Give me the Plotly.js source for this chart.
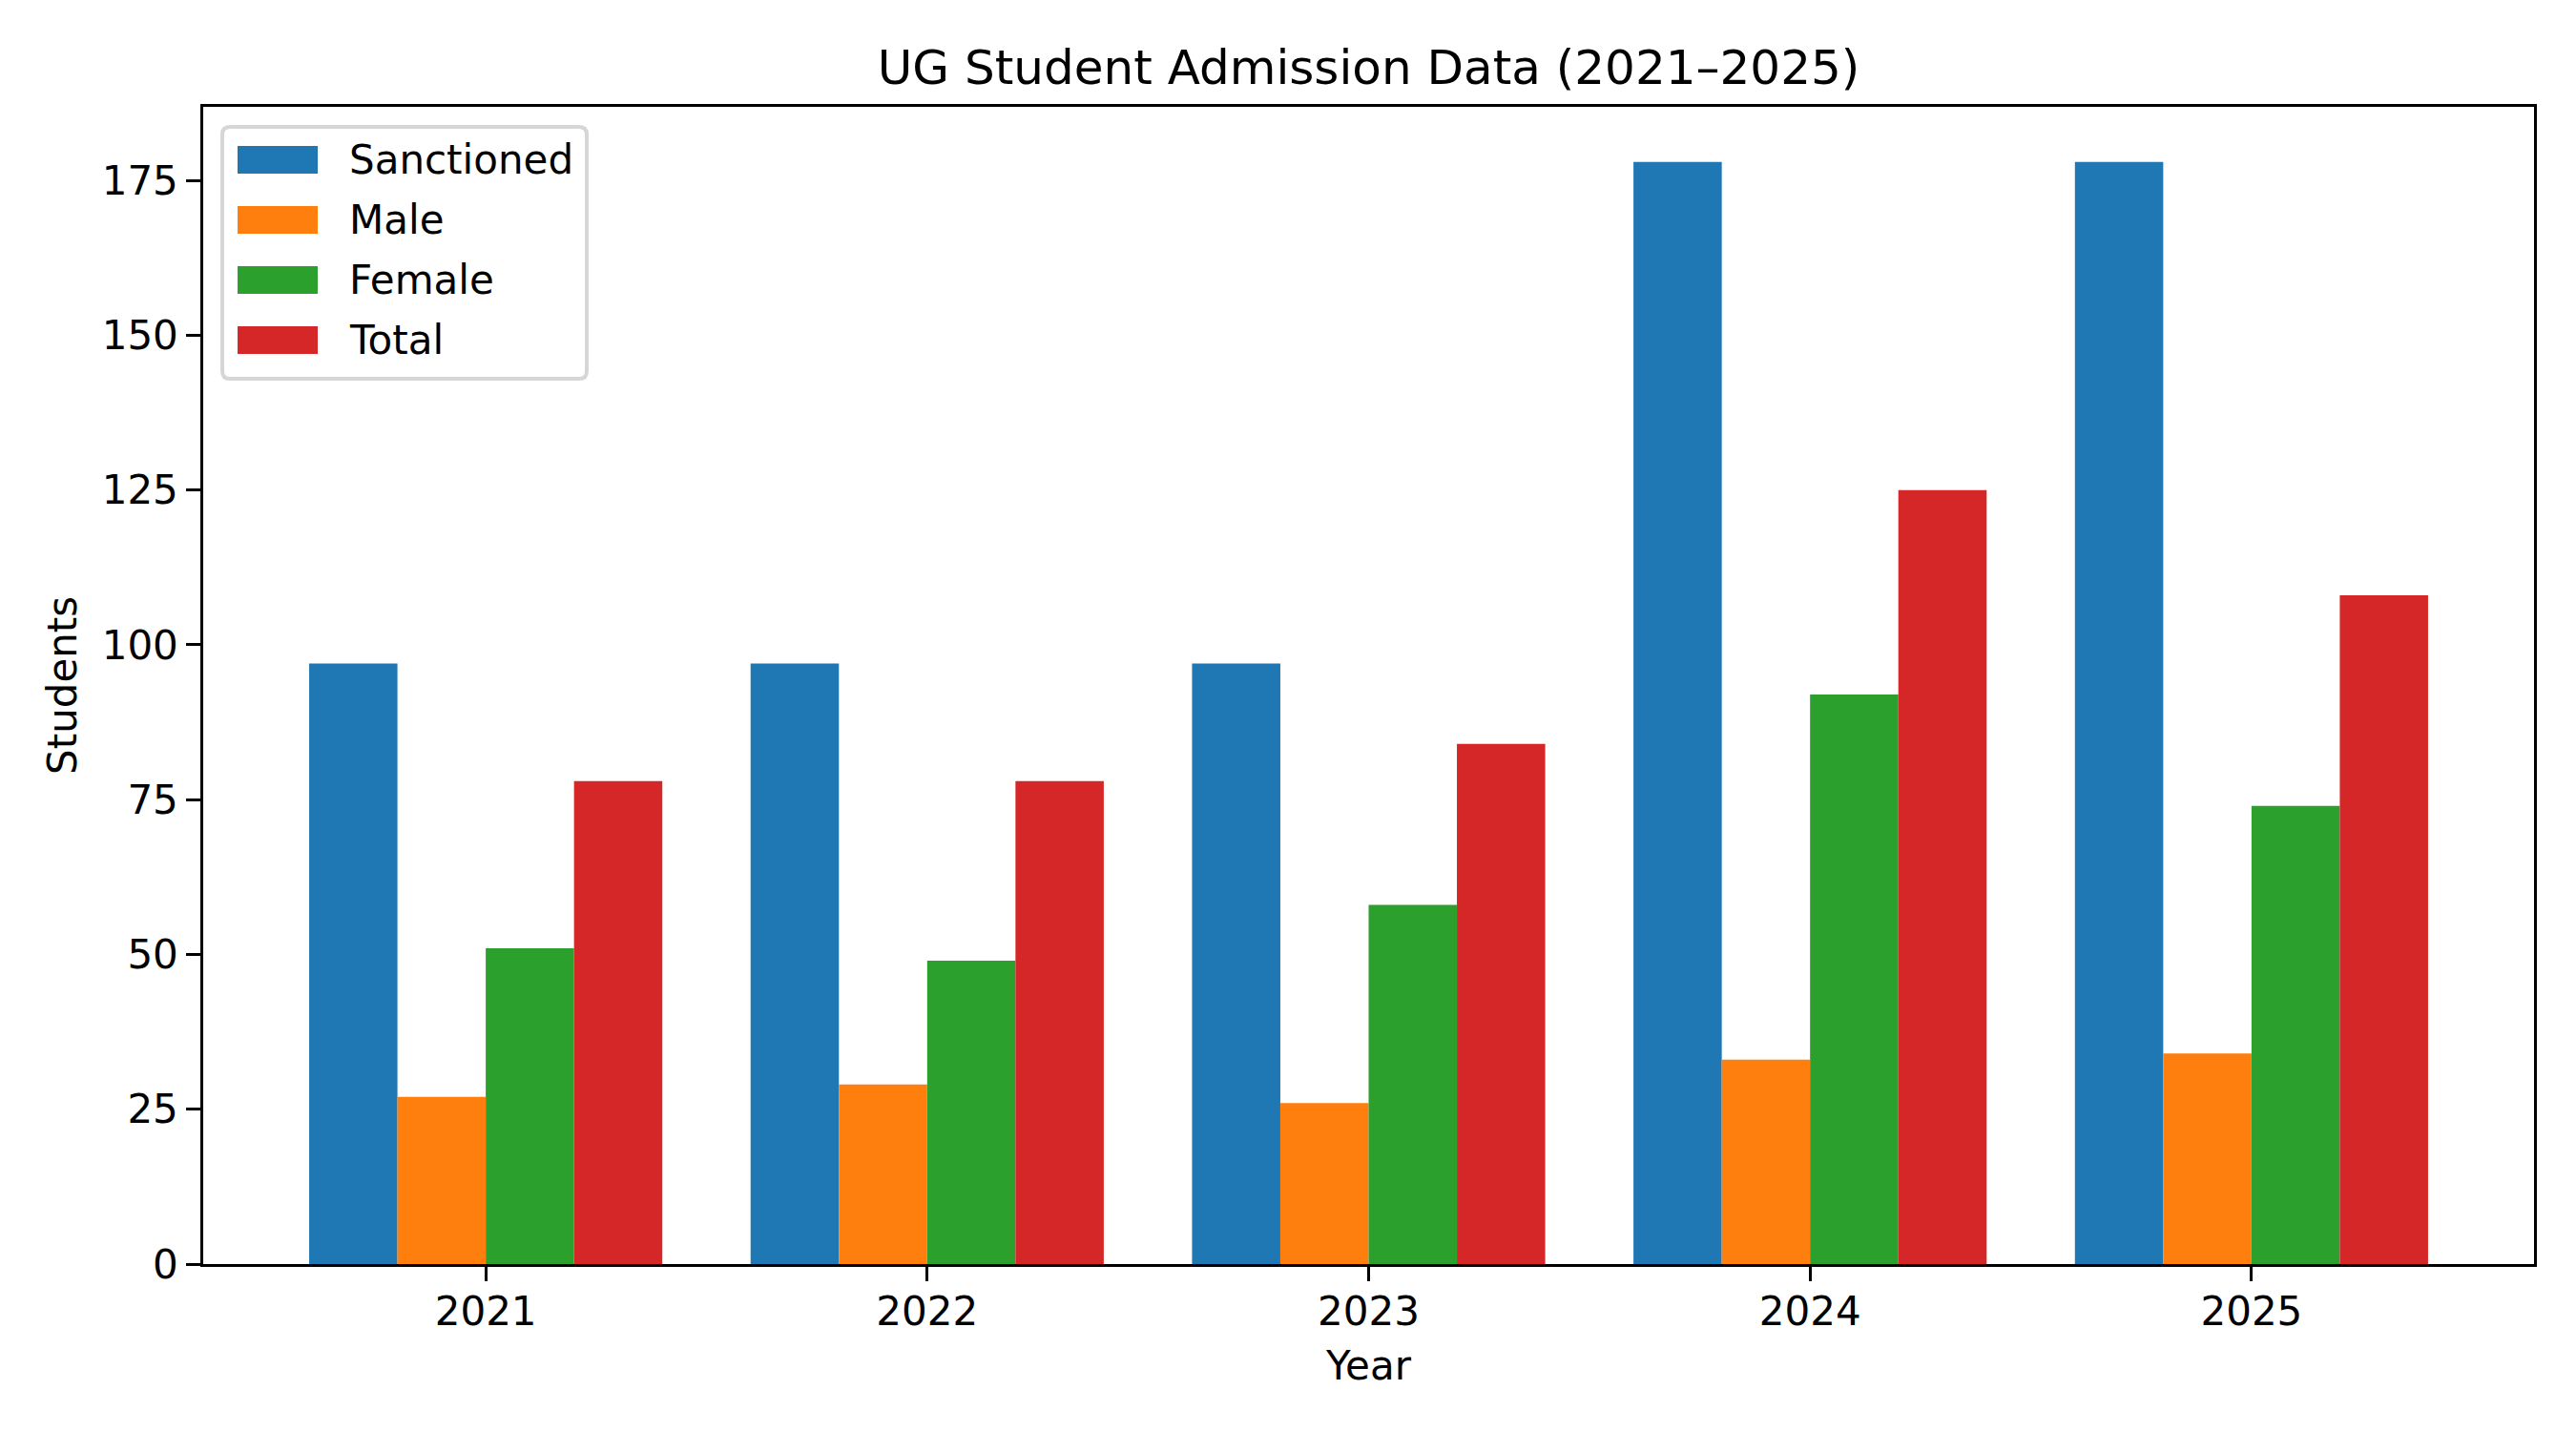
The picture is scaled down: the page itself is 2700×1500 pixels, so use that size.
<!DOCTYPE html>
<html>
<head>
<meta charset="utf-8">
<script src="https://cdn.plot.ly/plotly-3.0.1.min.js"></script>
<style>
  html, body { margin: 0; padding: 0; background: #fff; }
  #chart { width: 2700px; height: 1500px; }
</style>
</head>
<body>
<div id="chart"></div>
<script>
// admission numbers per year
const years = ['2021', '2022', '2023', '2024', '2025']
const sanctioned = [97, 97, 97, 178, 178]
const male = [27, 29, 26, 33, 34]
const female = [51, 49, 58, 92, 74]
const total = [78, 78, 84, 125, 108]
const yTicks = [0, 25, 50, 75, 100, 125, 150, 175]

const seriesNames = ['Sanctioned', 'Male', 'Female', 'Total']
const seriesColors = ['#1f77b4', '#ff7f0e', '#2ca02c', '#d62728']
const seriesValues = [sanctioned, male, female, total]

const font = 'DejaVu Sans, sans-serif'

let traces = seriesValues.map((vals, i) => ({
  type: 'bar',
  name: seriesNames[i],
  x: years,
  y: vals,
  marker: { color: seriesColors[i], line: { width: 0 } },
  hoverinfo: 'x+y+name'
}))

// matplotlib-like legend: wide swatches, drawn in pixels from the top-left corner of the axes
let shapes = []
let annotations = []
let r = 8
let bx0 = 20, bx1 = 402, by0 = -21, by1 = -285
shapes.push({
  type: 'path', xref: 'paper', yref: 'paper',
  xsizemode: 'pixel', ysizemode: 'pixel', xanchor: 0, yanchor: 1,
  path: `M${bx0 + r},${by0} L${bx1 - r},${by0} Q${bx1},${by0} ${bx1},${by0 - r} ` +
        `L${bx1},${by1 + r} Q${bx1},${by1} ${bx1 - r},${by1} ` +
        `L${bx0 + r},${by1} Q${bx0},${by1} ${bx0},${by1 + r} ` +
        `L${bx0},${by0 - r} Q${bx0},${by0} ${bx0 + r},${by0} Z`,
  fillcolor: 'rgba(255,255,255,0.8)',
  line: { color: '#d6d6d6', width: 4 }
})
seriesNames.forEach((name, i) => {
  let cy = -(55.5 + i * 63)
  shapes.push({
    type: 'rect', xref: 'paper', yref: 'paper',
    xsizemode: 'pixel', ysizemode: 'pixel', xanchor: 0, yanchor: 1,
    x0: 36, x1: 120, y0: cy - 14.6, y1: cy + 14.6,
    fillcolor: seriesColors[i], line: { width: 0 }
  })
  annotations.push({
    xref: 'paper', yref: 'paper', x: 0, y: 1,
    xanchor: 'left', yanchor: 'middle',
    xshift: 151, yshift: cy,
    text: name, showarrow: false,
    font: { family: font, size: 42, color: '#000' }
  })
})

// axis titles
annotations.push({
  xref: 'paper', yref: 'paper', x: 0.5, y: 0,
  xanchor: 'center', yanchor: 'middle', yshift: -106,
  text: 'Year', showarrow: false,
  font: { family: font, size: 42, color: '#000' }
})
annotations.push({
  xref: 'paper', yref: 'paper', x: 0, y: 0.5,
  xanchor: 'center', yanchor: 'middle', xshift: -147.5,
  textangle: -90,
  text: 'Students', showarrow: false,
  font: { family: font, size: 42, color: '#000' }
})

let layout = {
  width: 2700,
  height: 1500,
  paper_bgcolor: '#fff',
  plot_bgcolor: '#fff',
  font: { family: font, size: 42, color: '#000' },
  barmode: 'group',
  bargap: 0.2,
  bargroupgap: 0,
  margin: { l: 213, r: 44, t: 112, b: 175 },
  title: {
    text: 'UG Student Admission Data (2021–2025)',
    font: { family: font, size: 50, color: '#000' },
    xref: 'paper', x: 0.5, xanchor: 'center',
    y: 1 - 70 / 1500, yanchor: 'middle'
  },
  xaxis: {
    type: 'category',
    range: [-0.64, 4.64],
    showline: true, mirror: true, linecolor: '#000', linewidth: 3.3,
    ticks: 'outside', ticklen: 14.6, tickwidth: 3.3, tickcolor: '#000',
    ticklabelstandoff: -4,
    showgrid: false, zeroline: false,
    tickfont: { family: font, size: 42 }
  },
  yaxis: {
    range: [0, 186.9],
    tickvals: yTicks,
    showline: true, mirror: true, linecolor: '#000', linewidth: 3.3,
    ticks: 'outside', ticklen: 14.6, tickwidth: 3.3, tickcolor: '#000',
    showgrid: false, zeroline: false,
    tickfont: { family: font, size: 42 }
  },
  shapes: shapes,
  annotations: annotations,
  showlegend: false
}

Plotly.newPlot('chart', traces, layout, { displayModeBar: false, responsive: false })
</script>
</body>
</html>
